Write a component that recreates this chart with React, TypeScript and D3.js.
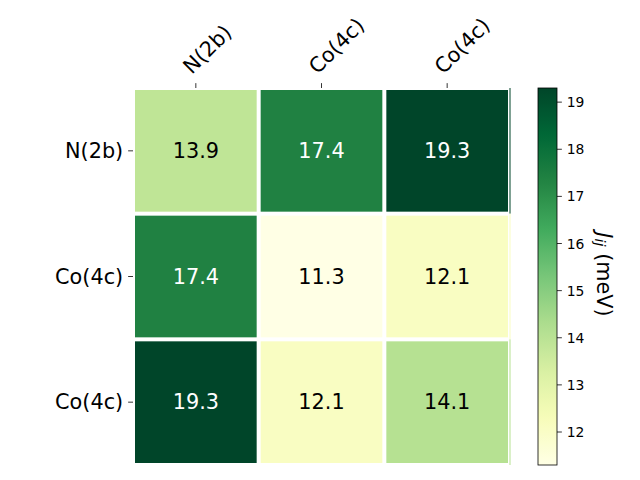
import React from "react";
import * as d3 from "d3";

const rowLabels = ["N(2b)", "Co(4c)", "Co(4c)"];
const colLabels = ["N(2b)", "Co(4c)", "Co(4c)"];
const values: number[][] = [
  [13.9, 17.4, 19.3],
  [17.4, 11.3, 12.1],
  [19.3, 12.1, 14.1],
];
const cbTicks = [12, 13, 14, 15, 16, 17, 18, 19];
const ylGn = ["#ffffe5", "#f7fcb9", "#d9f0a3", "#addd8e", "#78c679", "#41ab5d", "#238443", "#006837", "#004529"];

const W = 640, H = 480;
const ax = { x: 133, y: 88, w: 377, h: 377 };
const cb = { x: 538, y: 88, w: 19, h: 377 };
const FONT = "DejaVu Sans, sans-serif";

export default function App() {
  const flat = values.flat();
  const vmin = d3.min(flat)!;
  const vmax = d3.max(flat)!;
  const cmap = d3
    .scaleLinear<string>()
    .domain(ylGn.map((_, i) => i / (ylGn.length - 1)))
    .range(ylGn)
    .interpolate(d3.interpolateRgb);
  const norm = d3.scaleLinear().domain([vmin, vmax]).range([0, 1]).clamp(true);
  const color = (v: number) => cmap(norm(v));

  const x = d3.scaleBand<number>().domain(d3.range(colLabels.length)).range([ax.x, ax.x + ax.w]);
  const y = d3.scaleBand<number>().domain(d3.range(rowLabels.length)).range([ax.y, ax.y + ax.h]);
  const cbY = d3.scaleLinear().domain([vmin, vmax]).range([cb.y + cb.h, cb.y]);
  const gap = 2;
  const tickLen = 4.86;
  const stops = d3.range(0, 1.0001, 0.02);

  return (
    <svg width={W} height={H} style={{ position: "absolute", left: 0, top: 0 }} fontFamily={FONT}>
      <rect width={W} height={H} fill="#fff" />
      <defs>
        <linearGradient id="cbg" x1="0" y1="1" x2="0" y2="0">
          {stops.map((t) => (
            <stop key={t} offset={t} stopColor={cmap(t)} />
          ))}
        </linearGradient>
      </defs>
      {values.map((row, i) =>
        row.map((v, j) => (
          <g key={`${i}-${j}`}>
            <rect
              x={x(j)! + gap}
              y={y(i)! + gap}
              width={x.bandwidth() - 2 * gap}
              height={y.bandwidth() - 2 * gap}
              fill={color(v)}
            />
            {j === row.length - 1 && (
              <rect x={ax.x + ax.w - 0.5} y={y(i)!} width={1} height={y.bandwidth()} fill={color(v)} />
            )}
            <text
              x={x(j)! + x.bandwidth() / 2}
              y={y(i)! + y.bandwidth() / 2}
              textAnchor="middle"
              dominantBaseline="central"
              fontSize={20.8}
              fill={norm(v) > 0.6 ? "#fff" : "#000"}
            >
              {v.toFixed(1)}
            </text>
          </g>
        ))
      )}
      {colLabels.map((l, j) => {
        const cx = x(j)! + x.bandwidth() / 2;
        return (
          <g key={`c${j}`}>
            <line x1={cx} x2={cx} y1={ax.y} y2={ax.y - tickLen} stroke="#000" strokeWidth={0.8} />
            <text transform={`translate(${cx - 4},${75}) rotate(-45)`} fontSize={20.8} fill="#000">
              {l}
            </text>
          </g>
        );
      })}
      {rowLabels.map((l, i) => {
        const cy = y(i)! + y.bandwidth() / 2;
        return (
          <g key={`r${i}`}>
            <line x1={ax.x} x2={ax.x - tickLen} y1={cy} y2={cy} stroke="#000" strokeWidth={0.8} />
            <text x={ax.x - tickLen - 4.9} y={cy} textAnchor="end" dominantBaseline="central" fontSize={20.8} fill="#000">
              {l}
            </text>
          </g>
        );
      })}
      <rect x={cb.x} y={cb.y} width={cb.w} height={cb.h} fill="url(#cbg)" stroke="#000" strokeWidth={0.8} />
      {cbTicks.map((t) => (
        <g key={`t${t}`}>
          <line x1={cb.x + cb.w} x2={cb.x + cb.w + tickLen} y1={cbY(t)} y2={cbY(t)} stroke="#000" strokeWidth={0.8} />
          <text x={cb.x + cb.w + tickLen + 4.9} y={cbY(t)} dominantBaseline="central" fontSize={13.9} fill="#000">
            {t}
          </text>
        </g>
      ))}
      <text transform={`translate(604,${cb.y + cb.h / 2 - 2}) rotate(90)`} textAnchor="middle" dominantBaseline="central" fontSize={20.8} fill="#000">
        <tspan fontStyle="italic">J</tspan>
        <tspan fontStyle="italic" fontSize={14.5} dy={4}>ij</tspan>
        <tspan dy={-4}> (meV)</tspan>
      </text>
    </svg>
  );
}
